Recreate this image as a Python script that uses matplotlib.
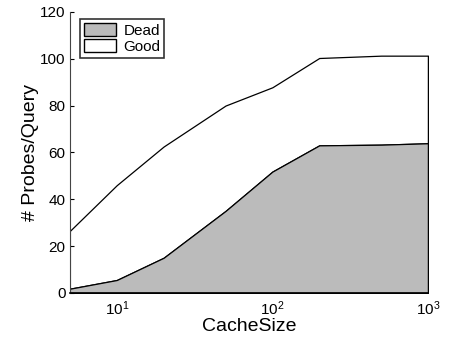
import matplotlib
matplotlib.use("Agg")
import matplotlib.pyplot as plt
from matplotlib.patches import Patch

plt.rcParams['font.family'] = ['Liberation Sans', 'DejaVu Sans']

cache_size = [5, 10, 20, 50, 100, 200, 500, 1000]
dead = [1.8, 5.5, 15, 35, 51.8, 63, 63.3, 63.9]
total = [26.5, 46, 62.5, 80, 87.8, 100.3, 101.3, 101.3]

fig = plt.figure(figsize=(4.51, 3.39), dpi=100)
ax = fig.add_axes([0.155, 0.136, 0.794, 0.829])

ax.fill_between(cache_size, dead, total, facecolor='white', edgecolor='black', linewidth=0.9)
ax.fill_between(cache_size, 0, dead, facecolor='#bbbbbb', edgecolor='black', linewidth=0.9)
ax.plot([cache_size[-1], cache_size[-1]], [0, total[-1]], color='black', linewidth=0.9)

ax.set_xscale('log')
ax.set_xlim(5, 1000)
ax.set_ylim(0, 120)
ax.set_yticks([0, 20, 40, 60, 80, 100, 120])
ax.set_xticks([10, 100, 1000])
ax.minorticks_off()
ax.tick_params(axis='y', direction='in', length=3, labelsize=11, pad=3)
ax.tick_params(axis='x', length=0, labelsize=11, pad=5)
for s in ['top', 'right']:
    ax.spines[s].set_visible(False)
ax.spines['left'].set_color('#444444')
ax.spines['bottom'].set_linewidth(1.2)

ax.set_xlabel('CacheSize', fontsize=14, labelpad=0)
ax.set_ylabel('# Probes/Query', fontsize=14, labelpad=1)

handles = [Patch(facecolor='#bbbbbb', edgecolor='black', label='Dead'),
           Patch(facecolor='white', edgecolor='black', label='Good')]
leg = ax.legend(handles=handles, loc='upper left', fontsize=11, frameon=True,
                fancybox=False, edgecolor='black', borderaxespad=0.0,
                handlelength=2.1, handleheight=0.95, handletextpad=0.5,
                labelspacing=0.1, borderpad=0.25, bbox_to_anchor=(0.028, 0.975))
leg.get_frame().set_linewidth(1.2)

fig.savefig('out.png', dpi=100)
